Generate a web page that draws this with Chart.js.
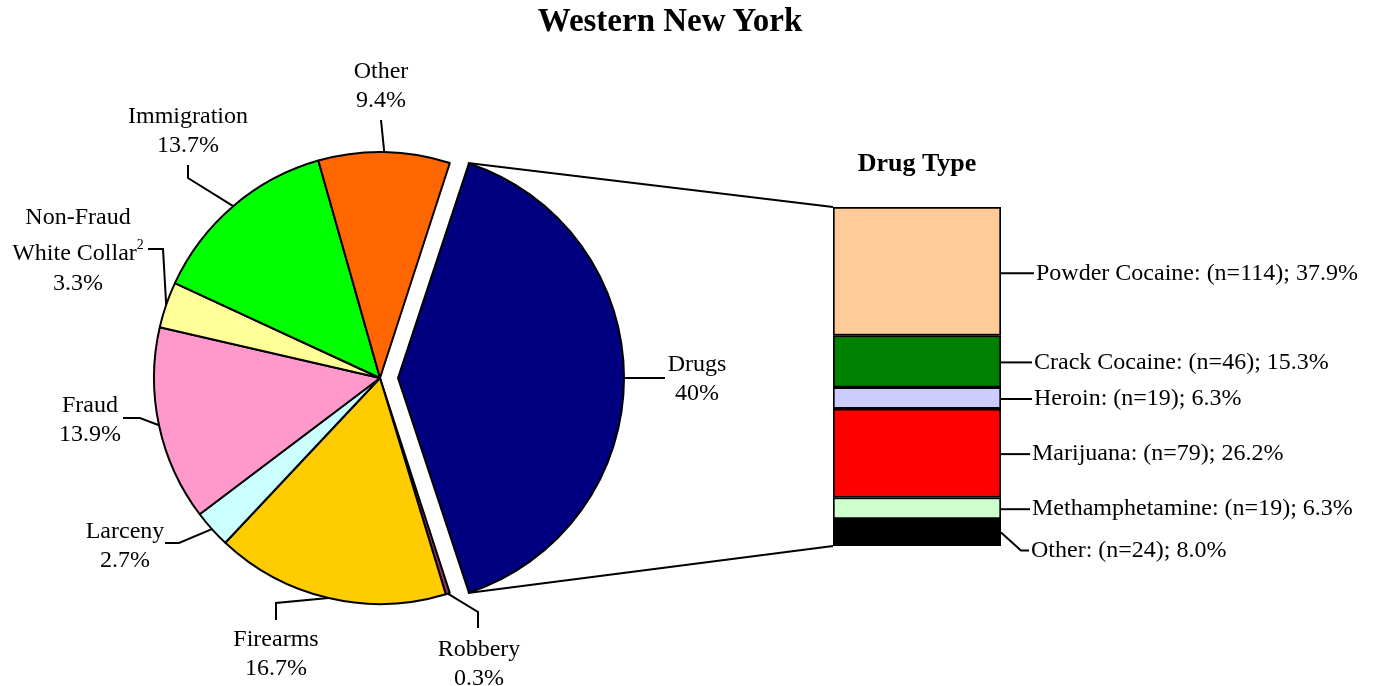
<!DOCTYPE html>
<html>
<head>
<meta charset="utf-8">
<title>Western New York</title>
<script src="https://cdn.jsdelivr.net/npm/chart.js@4.4.1/dist/chart.umd.min.js"></script>
<style>
    body { margin: 0; background: #fff; }
    #wrap { position: relative; width: 1376px; height: 686px; overflow: hidden; }
    #wrap canvas { position: absolute; left: 0; top: 0; }
    #title {
        position: absolute; left: 0; top: 2px; width: 1340px;
        text-align: center; line-height: 34px;
        font: bold 33px "Liberation Serif", "Times New Roman", serif; color: #000;
    }
</style>
</head>
<body>
<div id="wrap">
    <canvas id="offenseChart" width="1376" height="686"></canvas>
    <canvas id="drugChart" width="1376" height="686"></canvas>
    <div id="title">Western New York</div>
</div>
<script>
// Offense categories (pie), clockwise from the exploded Drugs slice
const offenseNames = ['Drugs', 'Robbery', 'Firearms', 'Larceny', 'Fraud', 'Non-Fraud White Collar', 'Immigration', 'Other'];
const offenseShares = [40, 0.3, 16.7, 2.7, 13.9, 3.3, 13.7, 9.4];
const offenseNotes = ['', '', '', '', '', '2', '', ''];
const offenseColors = ['#000080', '#993366', '#FFCC00', '#CCFFFF', '#FF99CC', '#FFFF99', '#00FF00', '#FF6600'];

// Drug type breakdown (stacked bar), top to bottom
const drugNames = ['Powder Cocaine', 'Crack Cocaine', 'Heroin', 'Marijuana', 'Methamphetamine', 'Other'];
const drugCounts = [114, 46, 19, 79, 19, 24];
const drugShares = [37.9, 15.3, 6.3, 26.2, 6.3, 8.0];
const drugColors = ['#FFCC99', '#008000', '#CCCCFF', '#FF0000', '#CCFFCC', '#000000'];

// Label placement for the pie (text centre x, line centres y, leader elbows)
const pieLabelLayout = [
    { x: 697, ys: [365, 394], elbow: [[665, 378]] },
    { x: 479, ys: [650, 679], elbow: [[478, 612], [478, 628]] },
    { x: 276, ys: [640, 669], elbow: [[276, 603], [276, 620]] },
    { x: 125, ys: [532, 561], elbow: [[179, 543], [165, 543]] },
    { x: 90, ys: [406, 435], elbow: [[140, 418], [123, 418]] },
    { x: 78, ys: [218, 254, 284], elbow: [[163, 249], [148, 249]], wrap: true },
    { x: 188, ys: [117, 146], elbow: [[188, 178], [188, 165]] },
    { x: 381, ys: [72, 101], elbow: [[381, 120]] }
];
const drugLabelDy = [2, 1, 1, 1, 1, 18];
const drugLabelGap = [35, 33, 33, 31, 31, 30];

const SERIF = '"Liberation Serif", "Times New Roman", serif';
Chart.defaults.font.family = SERIF;
Chart.defaults.color = '#000';

// Chart.js moves an offset arc by offset/4 and also grows its radius a little
function explodeShift(arc) {
    return (arc.options.offset || 0) / 4;
}
function radiusGrowth(arc) {
    const circ = arc.endAngle - arc.startAngle;
    return explodeShift(arc) * (1 - Math.sin(Math.min(Math.PI, circ)));
}

// Keep the exploded slice at the same radius as the rest of the pie
const keepRadius = {
    id: 'keepRadius',
    afterDatasetUpdate: function(chart) {
        chart.getDatasetMeta(0).data.forEach(function(arc) {
            arc.outerRadius -= radiusGrowth(arc);
        });
    }
};

// Leader lines and category labels around the pie
const pieLabels = {
    id: 'pieLabels',
    afterDatasetsDraw: function(chart) {
        const ctx = chart.ctx;
        const arcs = chart.getDatasetMeta(0).data;
        ctx.save();
        ctx.strokeStyle = '#000';
        ctx.fillStyle = '#000';
        ctx.lineWidth = 2;
        ctx.textAlign = 'center';
        ctx.textBaseline = 'middle';
        arcs.forEach(function(arc, i) {
            const lay = pieLabelLayout[i];
            const mid = (arc.startAngle + arc.endAngle) / 2;
            const r = arc.outerRadius + radiusGrowth(arc) + explodeShift(arc);
            ctx.beginPath();
            ctx.moveTo(arc.x + Math.cos(mid) * r, arc.y + Math.sin(mid) * r);
            lay.elbow.forEach(p => ctx.lineTo(p[0], p[1]));
            ctx.stroke();

            const name = offenseNames[i];
            let lines = [name];
            if (lay.wrap) {
                const cut = name.indexOf(' ');
                lines = [name.slice(0, cut), name.slice(cut + 1)];
            }
            lines.push(offenseShares[i] + '%');

            lines.forEach(function(text, k) {
                const y = lay.ys[k];
                const note = (k === lines.length - 2) ? offenseNotes[i] : '';
                ctx.font = '24px ' + SERIF;
                if (!note) {
                    ctx.fillText(text, lay.x, y);
                    return;
                }
                const w = ctx.measureText(text).width;
                ctx.font = '14px ' + SERIF;
                const nw = ctx.measureText(note).width;
                const left = lay.x - (w + nw) / 2;
                ctx.textAlign = 'left';
                ctx.fillText(note, left + w, y - 9);
                ctx.font = '24px ' + SERIF;
                ctx.fillText(text, left, y);
                ctx.textAlign = 'center';
            });
        });
        ctx.restore();
    }
};

const pieChart = new Chart(document.getElementById('offenseChart'), {
    type: 'pie',
    data: {
        labels: offenseNames,
        datasets: [{
            data: offenseShares,
            backgroundColor: offenseColors,
            borderColor: '#000',
            borderWidth: 2,
            offset: [72, 0, 0, 0, 0, 0, 0, 0],
            hoverOffset: 0
        }]
    },
    options: {
        responsive: false,
        animation: false,
        events: [],
        rotation: 18,
        radius: 226,
        layout: {
            padding: { left: 0, right: 616, top: 70, bottom: 0 }
        },
        plugins: {
            legend: { display: false },
            tooltip: { enabled: false }
        }
    },
    plugins: [keepRadius, pieLabels]
});

// Bar labels plus the two lines joining the bar to the Drugs slice
const drugLabels = {
    id: 'drugLabels',
    afterDraw: function(chart) {
        const ctx = chart.ctx;
        const n = drugNames.length;
        ctx.save();
        ctx.strokeStyle = '#000';
        ctx.fillStyle = '#000';
        ctx.lineWidth = 2;
        ctx.font = '24px ' + SERIF;
        ctx.textAlign = 'left';
        ctx.textBaseline = 'middle';

        for (let d = 0; d < n; d++) {
            const bar = chart.getDatasetMeta(d).data[0];
            const j = n - 1 - d;
            const right = bar.x + bar.width / 2;
            const cy = (bar.y + bar.base) / 2;
            const ly = cy + drugLabelDy[j];
            const tx = right + drugLabelGap[j];
            ctx.beginPath();
            ctx.moveTo(right, drugLabelDy[j] > 5 ? cy : ly);
            if (drugLabelDy[j] > 5) ctx.lineTo(right + 20, ly);
            ctx.lineTo(tx - 2, ly);
            ctx.stroke();
            ctx.fillText(drugNames[j] + ': (n=' + drugCounts[j] + '); ' + drugShares[j].toFixed(1) + '%', tx, ly);
        }

        // connectors to the exploded slice
        const arc = pieChart.getDatasetMeta(0).data[0];
        const mid = (arc.startAngle + arc.endAngle) / 2;
        const s = explodeShift(arc);
        const R = arc.outerRadius + radiusGrowth(arc);
        const cx = arc.x + Math.cos(mid) * s;
        const cy = arc.y + Math.sin(mid) * s;
        const topBar = chart.getDatasetMeta(n - 1).data[0];
        const bottomBar = chart.getDatasetMeta(0).data[0];
        ctx.beginPath();
        ctx.moveTo(cx + Math.cos(arc.startAngle) * R, cy + Math.sin(arc.startAngle) * R);
        ctx.lineTo(topBar.x - topBar.width / 2, topBar.y);
        ctx.moveTo(cx + Math.cos(arc.endAngle) * R, cy + Math.sin(arc.endAngle) * R);
        ctx.lineTo(bottomBar.x - bottomBar.width / 2, bottomBar.base);
        ctx.stroke();
        ctx.restore();
    }
};

const drugChart = new Chart(document.getElementById('drugChart'), {
    type: 'bar',
    data: {
        labels: ['Drugs'],
        datasets: drugNames.map(function(name, i) {
            return {
                label: name,
                data: [drugShares[i]],
                backgroundColor: drugColors[i],
                borderColor: '#000',
                borderWidth: 2,
                borderSkipped: false,
                categoryPercentage: 1,
                barPercentage: 1
            };
        }).reverse()
    },
    options: {
        responsive: false,
        animation: false,
        events: [],
        layout: {
            padding: { left: 833, right: 375, top: 149, bottom: 140 }
        },
        plugins: {
            legend: { display: false },
            tooltip: { enabled: false },
            title: {
                display: true,
                text: 'Drug Type',
                color: '#000',
                font: { size: 26, weight: 'bold', family: SERIF },
                padding: { top: 0, bottom: 26.8 }
            }
        },
        scales: {
            x: { stacked: true, display: false },
            y: { stacked: true, display: false, min: 0, max: 100 }
        }
    },
    plugins: [drugLabels]
});
</script>
</body>
</html>
